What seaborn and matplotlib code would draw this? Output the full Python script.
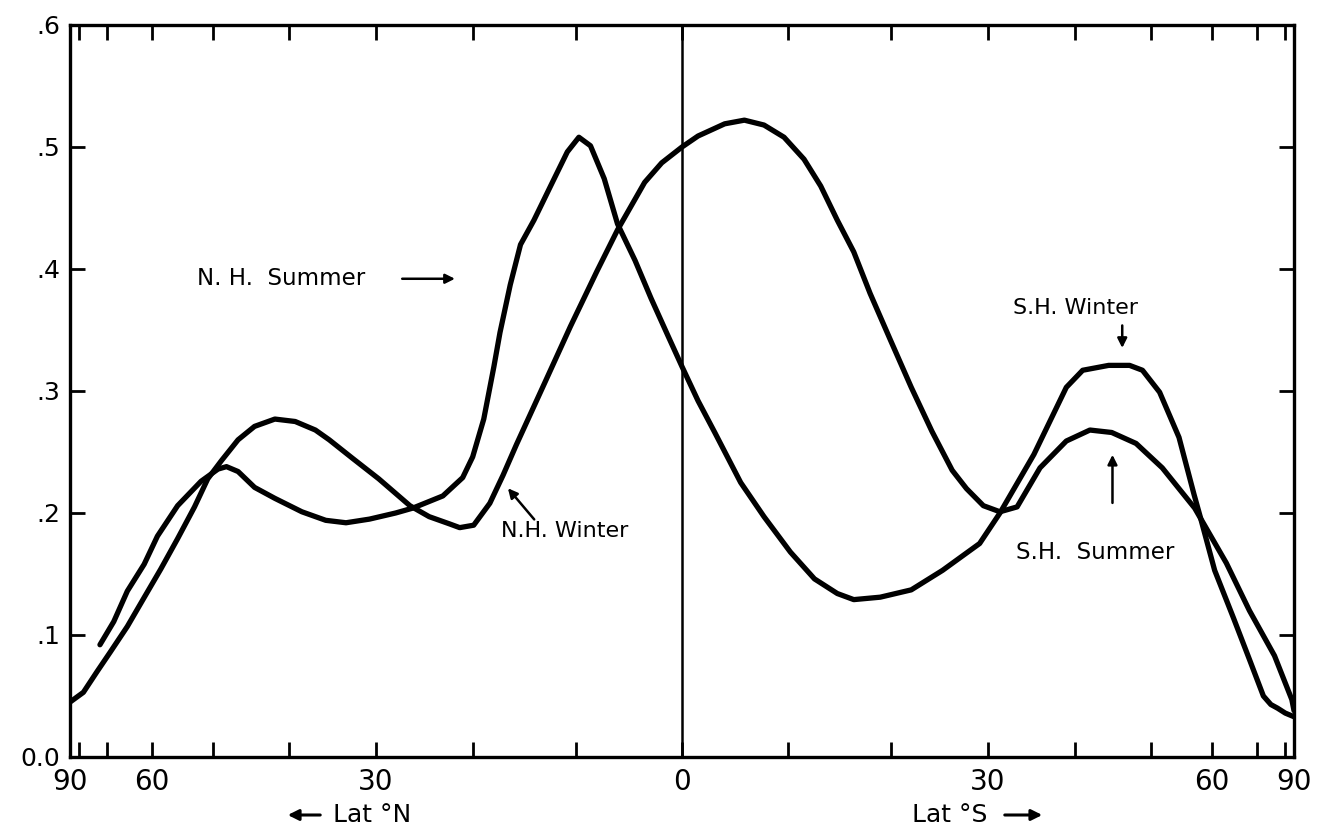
import numpy as np
import pandas as pd
import matplotlib
matplotlib.use("Agg")
import matplotlib.pyplot as plt
import seaborn as sns

# Latitude in degrees (north positive, south negative) and zonal value per season
nh_summer_lat = [72.0, 68.2, 65.0, 61.5, 59.0, 55.5, 51.8, 49.3, 48.1, 46.5,
                 44.3, 41.7, 38.4, 35.6, 33.3, 30.7, 27.9, 26.1, 23.0, 21.0,
                 20.0, 18.9, 17.9, 17.3, 16.3, 15.3, 14.0, 12.4, 10.8, 9.7,
                 8.6, 7.3, 6.05, 4.4, 2.9, 1.3, 0.0, -1.5, -3.07, -5.5,
                 -7.7, -10.2, -12.5, -14.7, -16.3, -18.9, -22.0, -25.2, -29.1, -31.3,
                 -35.1, -38.9, -40.9, -44.2, -47.0, -48.8, -51.3, -54.3, -56.8, -57.8,
                 -60.5, -64.3, -68.0, -71.8, -74.2, -76.7, -80.3, -90.0]
nh_summer_val = [0.092, 0.111, 0.136, 0.158, 0.181, 0.206, 0.226, 0.236, 0.238, 0.234,
                 0.221, 0.212, 0.201, 0.194, 0.192, 0.195, 0.200, 0.204, 0.214, 0.229,
                 0.246, 0.277, 0.320, 0.348, 0.387, 0.420, 0.440, 0.468, 0.496, 0.508,
                 0.501, 0.474, 0.437, 0.407, 0.376, 0.345, 0.320, 0.292, 0.266, 0.225,
                 0.197, 0.168, 0.146, 0.134, 0.129, 0.131, 0.137, 0.153, 0.175, 0.200,
                 0.248, 0.303, 0.317, 0.321, 0.321, 0.317, 0.299, 0.262, 0.215, 0.198,
                 0.153, 0.114, 0.080, 0.050, 0.043, 0.040, 0.036, 0.033]

nh_winter_lat = [90.0, 78.0, 72.9, 69.1, 65.0, 61.6, 58.4, 55.5, 52.8, 50.8,
                 48.8, 46.5, 44.3, 41.7, 39.2, 36.8, 35.2, 32.6, 29.7, 26.4,
                 24.4, 22.3, 21.3, 19.9, 18.3, 17.0, 15.7, 13.0, 10.5, 8.0,
                 6.05, 3.5, 1.9, 0.0, -1.5, -4.0, -5.85, -7.7, -9.6, -11.5,
                 -13.1, -14.7, -16.3, -17.9, -19.9, -22.0, -24.1, -26.2, -27.7, -29.5,
                 -31.3, -33.2, -35.8, -38.9, -41.8, -44.6, -47.9, -51.7, -56.9, -62.8,
                 -68.0, -75.5, -85.2, -90.0]
nh_winter_val = [0.045, 0.053, 0.070, 0.086, 0.107, 0.130, 0.154, 0.179, 0.205, 0.228,
                 0.243, 0.260, 0.271, 0.277, 0.275, 0.268, 0.260, 0.245, 0.228, 0.206,
                 0.197, 0.191, 0.188, 0.190, 0.208, 0.231, 0.256, 0.306, 0.353, 0.398,
                 0.432, 0.471, 0.487, 0.500, 0.509, 0.519, 0.522, 0.518, 0.508, 0.490,
                 0.468, 0.440, 0.414, 0.380, 0.342, 0.303, 0.267, 0.235, 0.220, 0.206,
                 0.201, 0.205, 0.237, 0.259, 0.268, 0.266, 0.257, 0.237, 0.204, 0.159,
                 0.120, 0.083, 0.047, 0.038]

# Axis ticks (degrees of latitude, placed on an area-weighted sine scale)
x_major_deg = [90, 60, 30, 0, -30, -60, -90]
x_major_labels = ["90", "60", "30", "0", "30", "60", "90"]
x_minor_deg = [80, 70, 50, 40, 20, 10, -10, -20, -40, -50, -70, -80]
y_ticks = [0.0, 0.1, 0.2, 0.3, 0.4, 0.5, 0.6]
y_labels = ["0.0", ".1", ".2", ".3", ".4", ".5", ".6"]

sns.set_theme(style="ticks")
plt.rcParams["font.family"] = ["DejaVu Sans"]
plt.rcParams["text.color"] = "black"
plt.rcParams["xtick.color"] = "black"
plt.rcParams["ytick.color"] = "black"
plt.rcParams["xtick.labelcolor"] = "black"
plt.rcParams["ytick.labelcolor"] = "black"


def sine_pos(lat):
    return np.sin(np.radians(lat))


df = pd.concat([
    pd.DataFrame({"lat": nh_summer_lat, "value": nh_summer_val, "season": "N.H. Summer"}),
    pd.DataFrame({"lat": nh_winter_lat, "value": nh_winter_val, "season": "N.H. Winter"}),
], ignore_index=True)
df["pos"] = sine_pos(df["lat"])

W, H = 1320, 834
fig = plt.figure(figsize=(W / 100, H / 100), dpi=100)
ax = fig.add_axes([70 / W, 1 - 757 / H, (1294 - 70) / W, (757 - 25) / H])

sns.lineplot(data=df, x="pos", y="value", hue="season",
             palette={"N.H. Summer": "black", "N.H. Winter": "black"},
             estimator=None, legend=False, linewidth=3.8, ax=ax)
for line in ax.lines:
    line.set_solid_capstyle("round")
    line.set_solid_joinstyle("round")

# Equator
ax.axvline(0, color="black", linewidth=1.8, zorder=1)

ax.set_xlim(1, -1)
ax.set_ylim(0, 0.6)
ax.set_xlabel("")
ax.set_ylabel("")

ax.set_xticks(sine_pos(np.array(x_major_deg)))
ax.set_xticklabels(x_major_labels, fontsize=20)
ax.set_xticks(sine_pos(np.array(x_minor_deg)), minor=True)
ax.set_yticks(y_ticks)
ax.set_yticklabels(y_labels, fontsize=18)

ax.tick_params(which="both", direction="in", top=True, right=True,
               length=11, width=2.0, color="black")
ax.tick_params(axis="x", which="major", pad=8)
ax.tick_params(axis="y", which="major", pad=7)
for spine in ax.spines.values():
    spine.set_linewidth(2.4)
    spine.set_color("black")

arrow = dict(arrowstyle="-|>", color="black", lw=1.8, mutation_scale=14)

# Season labels with arrows pointing at their curves
ax.text(sine_pos(52.4), 0.392, "N. H.  Summer", ha="left", va="center", fontsize=16.5)
ax.annotate("", xy=(sine_pos(21.5), 0.392), xytext=(sine_pos(27.5), 0.392),
            arrowprops=arrow)

ax.text(sine_pos(17.2), 0.185, "N.H. Winter", ha="left", va="center", fontsize=16)
ax.annotate("", xy=(sine_pos(16.7), 0.222), xytext=(sine_pos(13.8), 0.193),
            arrowprops=arrow)

ax.text(sine_pos(-40.0), 0.368, "S.H. Winter", ha="center", va="center", fontsize=16)
ax.annotate("", xy=(sine_pos(-46.0), 0.333), xytext=(sine_pos(-46.0), 0.356),
            arrowprops=arrow)

ax.text(sine_pos(-42.5), 0.168, "S.H.  Summer", ha="center", va="center", fontsize=16.5)
ax.annotate("", xy=(sine_pos(-44.7), 0.250), xytext=(sine_pos(-44.7), 0.206),
            arrowprops=arrow)

# Hemisphere captions under the axis, each with a direction arrow
cap_y = 1 - 815 / H
cap_arrow = dict(arrowstyle="-|>", color="black", lw=2.2, mutation_scale=16)
fig.text(333 / W, cap_y, "Lat \u00b0N", ha="left", va="center", fontsize=18)
fig.add_artist(matplotlib.patches.FancyArrowPatch(
    (323 / W, cap_y), (285 / W, cap_y), transform=fig.transFigure, **cap_arrow))
fig.text(912 / W, cap_y, "Lat \u00b0S", ha="left", va="center", fontsize=18)
fig.add_artist(matplotlib.patches.FancyArrowPatch(
    (1002 / W, cap_y), (1045 / W, cap_y), transform=fig.transFigure, **cap_arrow))

fig.savefig("out.png", dpi=100, facecolor="white")
